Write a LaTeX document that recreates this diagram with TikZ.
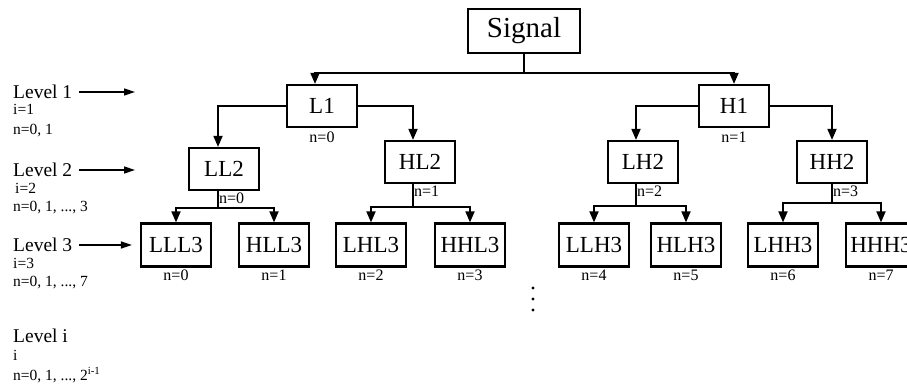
\documentclass[tikz,border=0pt]{standalone}
\usepackage{fontspec}
\setmainfont{Liberation Serif}
\usepackage{tikz}
\usetikzlibrary{positioning,arrows.meta}

\tikzset{
  box/.style={draw, line width=2.2pt, inner sep=0pt, minimum width=70pt, minimum height=42pt, font=\fontsize{23}{23}\selectfont},
  link/.style={line width=1.8pt, -{Triangle[length=11pt,width=9pt]}},
  levarrow/.style={line width=1.5pt, -{Triangle[length=11pt,width=7pt]}},
  nlab/.style={inner sep=1pt, font=\fontsize{16}{16}\selectfont},
  levlab/.style={anchor=west, inner sep=0pt, font=\fontsize{19.5}{19.5}\selectfont},
  sublab/.style={anchor=west, inner sep=0pt, font=\fontsize{15.5}{15.5}\selectfont},
}

\begin{document}
\begin{tikzpicture}[x=1pt,y=-1pt]
    \useasboundingbox (0,0) rectangle (907,387);
    \clip (0,0) rectangle (907,387);
    % boxes
    \node[box, minimum width=112pt, minimum height=44pt, font=\fontsize{29}{29}\selectfont] (Sig) at (524,31) {Signal};
    \node[box] (L1) at (322,106) {L1};
    \node[box] (H1) at (734,106) {H1};
    \node[nlab, below=3pt of L1] (nL1) {n=0};
    \node[nlab, below=3pt of H1] (nH1) {n=1};
    \node[box] (LL2) at (224,169) {LL2};
    \node[box] (HL2) at (420,162) {HL2};
    \node[box] (LH2) at (643,162) {LH2};
    \node[box] (HH2) at (832,162) {HH2};
    \foreach \name/\x [count=\k from 0] in {LLL3/176, HLL3/274, LHL3/371, HHL3/470, LLH3/594, HLH3/686, LHH3/783, HHH3/881} {
        \node[box, minimum height=43pt] (\name) at (\x,245) {\name};
        \node[nlab, below=1pt of \name] (n\name) {n=\k};
    }
    % connectors
    \draw[link] (Sig.south) -- ++(0,19) -| ([xshift=-7]L1.north);
    \draw[link] (Sig.south) -- ++(0,19) -| (H1.north);
    \draw[link] (L1.west) -| ([xshift=-6]LL2.north);
    \draw[link] (L1.east) -| ([xshift=-7]HL2.north);
    \draw[link] (H1.west) -| ([xshift=-7]LH2.north);
    \draw[link] (H1.east) -| (HH2.north);
    \foreach \p/\s/\d/\l/\r/\n in {LL2/-6/17/LLL3/HLL3/0, HL2/-7/23/LHL3/HHL3/1, LH2/-7/22/LLH3/HLH3/2, HH2/0/19/LHH3/HHH3/3} {
        \draw[link] ([xshift=\s]\p.south) -- ++(0,\d) -| (\l.north);
        \draw[link] ([xshift=\s]\p.south) -- ++(0,\d) -| (\r.north);
        \node[nlab, anchor=north west] (n\p) at ([xshift=\s,yshift=-1]\p.south) {n=\n};
    }
    % dots
    \foreach \y in {288,299,310}
        \fill (533,\y) circle (1.7pt);
    % level labels
    \node[levlab] (lev1) at (13,92) {Level 1};
    \node[sublab] (i1) at (13,109) {i=1};
    \node[sublab] (r1) at (13,131) {n=0, 1};
    \coordinate (a1) at (135,92);
    \draw[levarrow, shorten <=7pt] (lev1.east) -- (a1);
    \node[levlab] (lev2) at (13,170) {Level 2};
    \node[sublab] (i2) at (15,188) {i=2};
    \node[sublab] (r2) at (13,208) {n=0, 1, ..., 3};
    \coordinate (a2) at (135,170);
    \draw[levarrow, shorten <=7pt] (lev2.east) -- (a2);
    \node[levlab] (lev3) at (13,245) {Level 3};
    \node[sublab] (i3) at (13,263) {i=3};
    \node[sublab] (r3) at (13,283) {n=0, 1, ..., 7};
    \draw[levarrow, shorten <=7pt, shorten >=8pt] (lev3.east) -- (lev3.east -| LLL3.west);
    \node[levlab] (levi) at (13,336) {Level i};
    \node[sublab] (ii) at (13,355) {i};
    \node[sublab] (ri) at (13,375) {n=0, 1, ..., 2\textsuperscript{i-1}};
\end{tikzpicture}
\end{document}
